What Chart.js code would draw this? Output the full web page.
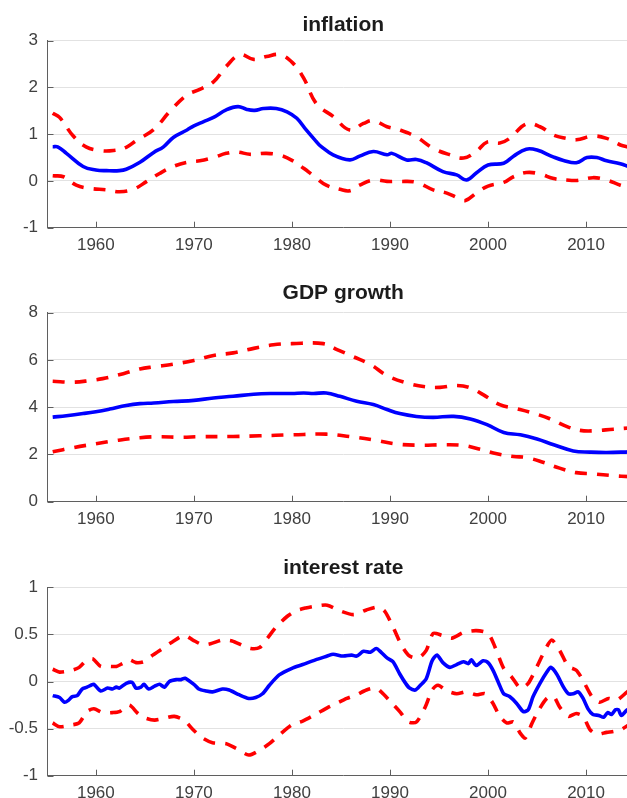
<!DOCTYPE html>
<html>
<head>
<meta charset="utf-8">
<script src="https://cdn.jsdelivr.net/npm/chart.js@4.4.1/dist/chart.umd.min.js"></script>
<style>
  html, body { margin: 0; padding: 0; background: #fff; overflow: hidden; width: 627px; height: 798px; }
  canvas { position: absolute; left: 0; }
</style>
</head>
<body>
<canvas id="inflation"></canvas>
<canvas id="gdp"></canvas>
<canvas id="rate"></canvas>
<script>
// ---------- data: [year, value] ----------
const yearTicks = [1960, 1970, 1980, 1990, 2000, 2010];

const inflTicks = [-1, 0, 1, 2, 3];
const inflMean = [
  [1955.6, 0.73], [1956.1, 0.73], [1957.0, 0.59], [1958.7, 0.31], [1960.0, 0.235], [1961.1, 0.22],
  [1962.4, 0.22], [1963.1, 0.25], [1964.5, 0.40], [1965.9, 0.61], [1966.9, 0.73], [1967.9, 0.93],
  [1969.3, 1.09], [1970.0, 1.18], [1971.0, 1.27], [1972.0, 1.36], [1973.3, 1.52], [1974.5, 1.59],
  [1975.4, 1.53], [1976.2, 1.51], [1977.1, 1.55], [1978.4, 1.55], [1979.5, 1.48], [1980.5, 1.34],
  [1981.5, 1.08], [1982.5, 0.84], [1982.9, 0.75], [1984.2, 0.56], [1985.9, 0.45], [1986.9, 0.53],
  [1988.3, 0.63], [1989.7, 0.56], [1990.2, 0.59], [1991.7, 0.45], [1992.7, 0.46], [1993.7, 0.39],
  [1995.4, 0.20], [1996.8, 0.13], [1997.8, 0.02], [1998.8, 0.17], [2000.0, 0.34], [2001.6, 0.38],
  [2002.6, 0.53], [2003.9, 0.68], [2005.0, 0.66], [2006.7, 0.51], [2007.7, 0.44], [2009.0, 0.39],
  [2010.1, 0.50], [2011.1, 0.50], [2012.1, 0.43], [2013.5, 0.37], [2014.4, 0.30]
];
const inflUpper = [
  [1955.6, 1.45], [1956.3, 1.36], [1957.7, 0.96], [1959.0, 0.73], [1960.4, 0.65], [1961.8, 0.65],
  [1963.1, 0.72], [1964.1, 0.86], [1965.9, 1.10], [1967.6, 1.50], [1969.3, 1.84], [1970.6, 1.96],
  [1972.0, 2.12], [1973.3, 2.45], [1974.7, 2.70], [1976.1, 2.60], [1977.4, 2.66], [1978.8, 2.70],
  [1980.1, 2.52], [1981.2, 2.20], [1982.5, 1.65], [1984.2, 1.38], [1985.9, 1.09], [1987.3, 1.23],
  [1988.3, 1.29], [1989.7, 1.16], [1991.0, 1.09], [1992.7, 0.94], [1994.4, 0.70], [1996.1, 0.56],
  [1997.5, 0.49], [1998.8, 0.63], [1999.9, 0.83], [2001.2, 0.81], [2002.2, 0.91], [2003.9, 1.22],
  [2005.3, 1.16], [2006.7, 0.98], [2008.0, 0.91], [2009.0, 0.88], [2010.7, 0.96], [2012.1, 0.91],
  [2013.5, 0.77], [2014.4, 0.72]
];
const inflLower = [
  [1955.6, 0.11], [1956.7, 0.09], [1958.0, -0.09], [1959.4, -0.16], [1961.1, -0.19], [1962.4, -0.23],
  [1963.8, -0.18], [1965.2, -0.01], [1966.5, 0.16], [1967.9, 0.31], [1969.3, 0.40], [1970.6, 0.43],
  [1972.0, 0.50], [1973.3, 0.59], [1974.4, 0.62], [1975.7, 0.57], [1977.4, 0.59], [1978.8, 0.55],
  [1980.1, 0.43], [1981.2, 0.27], [1982.2, 0.11], [1983.5, -0.09], [1984.9, -0.18], [1985.9, -0.21],
  [1986.9, -0.09], [1988.3, 0.02], [1989.7, -0.01], [1991.0, -0.01], [1992.7, -0.03], [1994.4, -0.19],
  [1995.8, -0.26], [1997.0, -0.37], [1997.7, -0.42], [1998.8, -0.26], [2000.0, -0.11], [2001.6, -0.03],
  [2002.6, 0.09], [2003.9, 0.18], [2005.3, 0.15], [2006.7, 0.05], [2008.0, 0.02], [2009.0, 0.01],
  [2010.7, 0.07], [2012.1, 0.02], [2013.5, -0.09], [2014.4, -0.13]
];

const gdpTicks = [0, 2, 4, 6, 8];
const gdpMean = [
  [1955.6, 3.58], [1957.0, 3.64], [1958.7, 3.73], [1960.0, 3.81], [1961.4, 3.92], [1963.1, 4.07],
  [1964.5, 4.15], [1965.9, 4.18], [1967.9, 4.24], [1970.0, 4.29], [1972.0, 4.39], [1974.0, 4.46],
  [1976.1, 4.55], [1978.1, 4.58], [1980.0, 4.58], [1981.2, 4.60], [1982.2, 4.58], [1983.5, 4.60],
  [1984.9, 4.46], [1986.6, 4.25], [1988.3, 4.11], [1989.7, 3.90], [1991.0, 3.73], [1992.7, 3.61],
  [1994.4, 3.57], [1996.5, 3.61], [1998.2, 3.50], [1999.9, 3.26], [2001.6, 2.93], [2003.3, 2.83],
  [2005.0, 2.65], [2006.7, 2.41], [2008.7, 2.15], [2010.4, 2.10], [2012.1, 2.08], [2014.4, 2.11]
];
const gdpUpper = [
  [1955.6, 5.10], [1957.7, 5.06], [1959.4, 5.13], [1960.7, 5.21], [1962.8, 5.42], [1964.5, 5.62],
  [1965.9, 5.71], [1967.9, 5.82], [1970.0, 5.98], [1972.0, 6.19], [1974.0, 6.30], [1976.1, 6.49],
  [1978.1, 6.64], [1980.0, 6.69], [1983.2, 6.69], [1984.6, 6.44], [1986.3, 6.13], [1988.0, 5.81],
  [1989.7, 5.34], [1991.7, 5.03], [1993.7, 4.86], [1995.1, 4.84], [1996.8, 4.92], [1998.2, 4.82],
  [1999.5, 4.53], [2001.2, 4.11], [2002.9, 3.94], [2004.6, 3.75], [2006.3, 3.51], [2008.0, 3.19],
  [2009.4, 3.02], [2010.7, 3.00], [2012.8, 3.07], [2014.4, 3.12]
];
const gdpLower = [
  [1955.6, 2.11], [1957.7, 2.29], [1960.0, 2.45], [1962.1, 2.59], [1964.5, 2.71], [1966.5, 2.75],
  [1968.6, 2.73], [1970.6, 2.75], [1974.0, 2.76], [1976.7, 2.79], [1980.0, 2.83], [1983.5, 2.86],
  [1985.9, 2.76], [1988.3, 2.62], [1990.7, 2.44], [1993.1, 2.39], [1995.4, 2.41], [1997.5, 2.38],
  [1999.2, 2.22], [2000.9, 2.03], [2002.6, 1.91], [2003.9, 1.87], [2005.6, 1.67], [2007.3, 1.42],
  [2009.0, 1.23], [2010.7, 1.18], [2012.8, 1.10], [2014.4, 1.06]
];

const rateTicks = [-1, -0.5, 0, 0.5, 1];
const rateMean = [
  [1955.6, -0.15], [1956.3, -0.17], [1956.8, -0.22], [1957.2, -0.20], [1957.6, -0.16], [1958.1, -0.15],
  [1958.6, -0.08], [1959.1, -0.06], [1959.5, -0.04], [1959.8, -0.03], [1960.5, -0.10], [1961.2, -0.07],
  [1961.7, -0.08], [1962.1, -0.06], [1962.4, -0.07], [1963.1, -0.02], [1963.7, -0.01], [1964.1, -0.07],
  [1964.6, -0.06], [1964.9, -0.03], [1965.4, -0.08], [1966.0, -0.05], [1966.5, -0.03], [1967.0, -0.06],
  [1967.5, 0.00], [1968.2, 0.02], [1968.7, 0.02], [1969.1, 0.035], [1970.0, -0.03], [1970.5, -0.08],
  [1971.2, -0.10], [1971.9, -0.11], [1972.9, -0.08], [1973.6, -0.09], [1974.6, -0.14], [1975.6, -0.18],
  [1976.3, -0.17], [1977.0, -0.13], [1977.7, -0.04], [1978.7, 0.07], [1980.0, 0.14], [1981.1, 0.18],
  [1982.4, 0.23], [1983.6, 0.27], [1984.2, 0.29], [1985.2, 0.27], [1986.1, 0.28], [1986.6, 0.27],
  [1987.3, 0.32], [1988.0, 0.31], [1988.6, 0.35], [1989.1, 0.31], [1989.7, 0.25], [1990.3, 0.21],
  [1991.0, 0.08], [1991.6, -0.02], [1992.0, -0.07], [1992.6, -0.09], [1993.1, -0.04], [1993.7, 0.03],
  [1994.3, 0.22], [1994.8, 0.28], [1995.4, 0.20], [1996.1, 0.15], [1996.8, 0.18], [1997.5, 0.21],
  [1998.0, 0.19], [1998.3, 0.23], [1998.8, 0.17], [1999.5, 0.22], [2000.0, 0.20], [2000.5, 0.12],
  [2001.1, -0.02], [2001.6, -0.13], [2002.2, -0.16], [2002.9, -0.23], [2003.6, -0.32], [2004.1, -0.30],
  [2004.6, -0.16], [2005.3, -0.02], [2006.0, 0.10], [2006.4, 0.15], [2007.0, 0.08], [2007.7, -0.06],
  [2008.2, -0.13], [2008.7, -0.13], [2009.2, -0.11], [2009.7, -0.18], [2010.2, -0.29], [2010.7, -0.35],
  [2011.3, -0.36], [2011.8, -0.38], [2012.2, -0.33], [2012.6, -0.35], [2013.0, -0.30], [2013.3, -0.30],
  [2013.6, -0.36], [2014.2, -0.30], [2014.5, -0.30]
];
const rateUpper = [
  [1955.6, 0.13], [1956.3, 0.10], [1957.6, 0.12], [1958.3, 0.15], [1959.1, 0.23], [1959.7, 0.24],
  [1960.5, 0.16], [1961.4, 0.16], [1962.1, 0.16], [1962.7, 0.19], [1963.4, 0.23], [1964.1, 0.20],
  [1964.9, 0.21], [1965.8, 0.28], [1966.8, 0.35], [1967.8, 0.42], [1969.0, 0.49], [1969.9, 0.44],
  [1970.9, 0.39], [1971.7, 0.40], [1972.9, 0.44], [1973.9, 0.43], [1975.0, 0.38], [1975.8, 0.35],
  [1976.7, 0.36], [1977.5, 0.46], [1978.4, 0.58], [1979.5, 0.69], [1980.4, 0.75], [1981.4, 0.78],
  [1982.4, 0.80], [1983.6, 0.81], [1984.9, 0.75], [1986.3, 0.71], [1987.6, 0.76], [1988.8, 0.79],
  [1989.5, 0.74], [1990.3, 0.58], [1991.2, 0.38], [1992.0, 0.27], [1992.9, 0.25], [1993.7, 0.33],
  [1994.4, 0.51], [1995.3, 0.49], [1996.3, 0.46], [1997.5, 0.52], [1998.8, 0.54], [2000.0, 0.51],
  [2000.7, 0.37], [2001.6, 0.14], [2002.4, 0.05], [2003.3, -0.07], [2004.1, -0.02], [2005.0, 0.16],
  [2005.8, 0.33], [2006.5, 0.44], [2007.3, 0.33], [2008.2, 0.16], [2009.0, 0.12], [2009.7, 0.01],
  [2010.6, -0.16], [2011.4, -0.22], [2012.3, -0.18], [2013.1, -0.20], [2014.2, -0.11], [2014.5, -0.09]
];
const rateLower = [
  [1955.6, -0.44], [1956.3, -0.48], [1957.6, -0.46], [1958.3, -0.44], [1959.1, -0.32], [1959.8, -0.29],
  [1960.7, -0.33], [1961.7, -0.33], [1962.4, -0.32], [1963.4, -0.25], [1964.3, -0.34], [1965.1, -0.39],
  [1966.0, -0.41], [1967.0, -0.39], [1968.0, -0.37], [1969.0, -0.41], [1969.9, -0.51], [1970.9, -0.60],
  [1971.9, -0.65], [1973.3, -0.66], [1974.3, -0.71], [1975.6, -0.78], [1976.7, -0.73], [1977.7, -0.66],
  [1978.7, -0.57], [1980.0, -0.46], [1981.1, -0.42], [1982.4, -0.35], [1983.6, -0.28], [1984.2, -0.25],
  [1985.6, -0.18], [1986.6, -0.14], [1987.6, -0.09], [1988.6, -0.07], [1989.3, -0.13], [1990.2, -0.23],
  [1991.0, -0.32], [1991.9, -0.43], [1992.7, -0.43], [1993.6, -0.27], [1994.3, -0.09], [1994.9, -0.04],
  [1995.8, -0.10], [1996.8, -0.13], [1997.8, -0.11], [1998.8, -0.14], [1999.7, -0.13], [2000.5, -0.23],
  [2001.2, -0.37], [2001.9, -0.44], [2002.6, -0.43], [2003.3, -0.55], [2003.8, -0.60], [2004.5, -0.44],
  [2005.2, -0.30], [2006.0, -0.18], [2006.7, -0.16], [2007.3, -0.27], [2008.2, -0.37], [2009.0, -0.34],
  [2009.7, -0.37], [2010.4, -0.51], [2011.1, -0.56], [2012.1, -0.54], [2012.8, -0.53], [2013.6, -0.51],
  [2014.2, -0.47], [2014.5, -0.46]
];

// ---------- look ----------
const FONT = "'Liberation Sans', Arial, Helvetica, sans-serif";
const BLUE = '#0000ff';
const RED = '#ff0000';
const AXIS = '#5f5f5f';
const GRID = '#e2e2e2';
const TICK_TEXT = '#404040';
const X_MIN = 1955.07;
const X_MAX = 2015.4;
const CANVAS_W = 639;
const TITLE_SIZE = 21;
const TITLE_TOP_PAD = 2;

const panels = [
  { id: 'inflation', title: 'inflation', top: 11, height: 247, plotTop: 40.7, plotBottom: 227.7,
    ymin: -1, ymax: 3, yTicks: inflTicks, mean: inflMean, upper: inflUpper, lower: inflLower, tension: 0.4 },
  { id: 'gdp', title: 'GDP growth', top: 279, height: 253, plotTop: 312.7, plotBottom: 501.7,
    ymin: 0, ymax: 8, yTicks: gdpTicks, mean: gdpMean, upper: gdpUpper, lower: gdpLower, tension: 0.4 },
  { id: 'rate', title: 'interest rate', top: 554, height: 252, plotTop: 587.3, plotBottom: 775.7,
    ymin: -1, ymax: 1, yTicks: rateTicks, mean: rateMean, upper: rateUpper, lower: rateLower, tension: 0.25 }
];

// short tick marks pointing into the plot, drawn under the lines
const innerTicks = {
  id: 'innerTicks',
  beforeDatasetsDraw(chart) {
    const { ctx, chartArea: a, scales: { x, y } } = chart;
    ctx.save();
    ctx.strokeStyle = AXIS;
    ctx.lineWidth = 1;
    ctx.beginPath();
    x.ticks.forEach(t => {
      const px = Math.round(x.getPixelForValue(t.value)) + 0.5;
      ctx.moveTo(px, a.bottom);
      ctx.lineTo(px, a.bottom - 6);
    });
    y.ticks.forEach(t => {
      const py = Math.round(y.getPixelForValue(t.value)) + 0.5;
      ctx.moveTo(a.left, py);
      ctx.lineTo(a.left + 6, py);
    });
    ctx.stroke();
    ctx.restore();
  }
};

const toPts = arr => arr.map(([x, y]) => ({ x, y }));

function lineSet(points, color, dashed, tension) {
  return {
    data: toPts(points),
    borderColor: color,
    borderWidth: 3.6,
    borderDash: dashed ? [12, 10] : [],
    borderCapStyle: 'butt',
    borderJoinStyle: 'round',
    pointRadius: 0,
    tension: tension,
    fill: false
  };
}

panels.forEach(p => {
  const canvas = document.getElementById(p.id);
  canvas.width = CANVAS_W;
  canvas.height = p.height;
  canvas.style.top = p.top + 'px';

  const titleLine = TITLE_SIZE * 1.2;
  const titleBottomPad = p.plotTop - p.top - titleLine - TITLE_TOP_PAD;
  const xAxisHeight = p.height - (p.plotBottom - p.top);

  new Chart(canvas, {
    type: 'line',
    data: {
      datasets: [
        lineSet(p.upper, RED, true, p.tension),
        lineSet(p.lower, RED, true, p.tension),
        lineSet(p.mean, BLUE, false, p.tension)
      ]
    },
    options: {
      responsive: false,
      animation: false,
      devicePixelRatio: 1,
      layout: { padding: 0 },
      plugins: {
        legend: { display: false },
        tooltip: { enabled: false },
        title: {
          display: true,
          text: p.title,
          fullSize: false,
          color: '#1c1c1c',
          font: { family: FONT, size: TITLE_SIZE, weight: 'bold', lineHeight: 1.2 },
          padding: { top: TITLE_TOP_PAD, bottom: titleBottomPad }
        }
      },
      scales: {
        x: {
          type: 'linear',
          min: X_MIN,
          max: X_MAX,
          afterBuildTicks: s => { s.ticks = yearTicks.map(v => ({ value: v })); },
          afterFit: s => { s.height = xAxisHeight; },
          grid: { display: true, drawOnChartArea: false, drawTicks: false },
          border: { display: true, color: AXIS, width: 1 },
          ticks: {
            color: TICK_TEXT,
            font: { family: FONT, size: 17 },
            padding: 7,
            maxRotation: 0,
            autoSkip: false,
            callback: v => String(v)
          }
        },
        y: {
          min: p.ymin,
          max: p.ymax,
          afterBuildTicks: s => { s.ticks = p.yTicks.map(v => ({ value: v })); },
          afterFit: s => { s.width = 47.5; },
          grid: { color: GRID, lineWidth: 1, drawTicks: false },
          border: { display: true, color: AXIS, width: 1 },
          ticks: {
            color: TICK_TEXT,
            font: { family: FONT, size: 17 },
            padding: 9.5,
            autoSkip: false,
            callback: v => String(v)
          }
        }
      }
    },
    plugins: [innerTicks]
  });
});
</script>
</body>
</html>
